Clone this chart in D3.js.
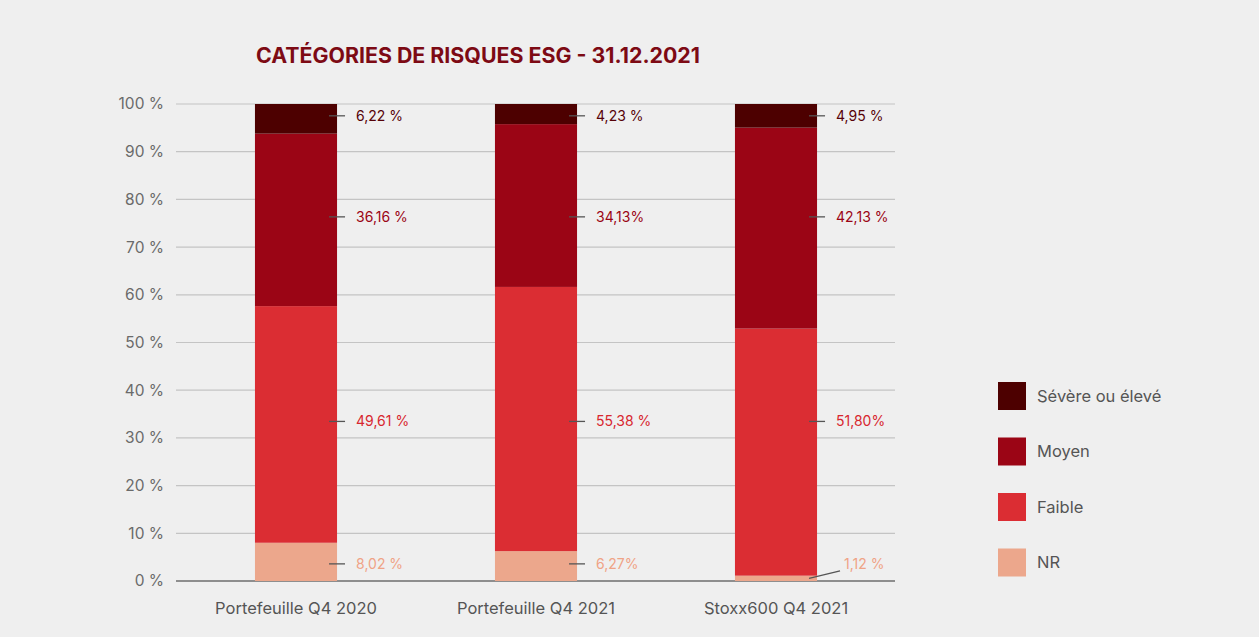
<!DOCTYPE html>
<html>
<head>
<meta charset="utf-8">
<script src="https://cdn.jsdelivr.net/npm/d3@7"></script>
<style>
  body { margin: 0; background: #efefef; }
  svg { display: block; }
  text { font-family: "Inter", "Noto Sans", sans-serif; }
</style>
</head>
<body>
<div id="canvas"></div>
<script>
// data
var categories = ["Portefeuille Q4 2020", "Portefeuille Q4 2021", "Stoxx600 Q4 2021"];
var seriesNames = ["NR", "Faible", "Moyen", "Sévère ou élevé"];
var nrValues = [8.02, 6.27, 1.12];
var faibleValues = [49.61, 55.38, 51.80];
var moyenValues = [36.16, 34.13, 42.13];
var severeValues = [6.22, 4.23, 4.95];
var nrLabels = ["8,02 %", "6,27%", "1,12 %"];
var faibleLabels = ["49,61 %", "55,38 %", "51,80%"];
var moyenLabels = ["36,16 %", "34,13%", "42,13 %"];
var severeLabels = ["6,22 %", "4,23 %", "4,95 %"];
var yTicks = [0, 10, 20, 30, 40, 50, 60, 70, 80, 90, 100];
var colors = ["#eca78c", "#db2d33", "#9b0515", "#4d0000"];
var labelColors = ["#efa386", "#d8262e", "#9b0515", "#560208"];

function init() {
    var svg = d3.select("#canvas").append("svg")
        .attr("width", 1259)
        .attr("height", 637);

    svg.append("rect")
        .attr("width", 1259)
        .attr("height", 637)
        .style("fill", "#efefef");

    // title
    svg.append("text")
        .attr("x", 256)
        .attr("y", 63)
        .attr("font-size", 21)
        .attr("font-weight", "bold")
        .attr("fill", "#7d0a14")
        .attr("textLength", 444)
        .attr("lengthAdjust", "spacingAndGlyphs")
        .text("CATÉGORIES DE RISQUES ESG - 31.12.2021");

    var x = d3.scaleBand()
        .domain(categories)
        .range([176, 896])
        .paddingInner(0.658)
        .paddingOuter(0.329);

    var y = d3.scaleLinear()
        .domain([0, 100])
        .range([581, 104]);

    // grid + y labels
    var grid = svg.append("g");
    grid.selectAll("line")
        .data(yTicks)
        .enter().append("line")
        .attr("x1", 176)
        .attr("x2", 895)
        .attr("y1", function(d) { return y(d); })
        .attr("y2", function(d) { return y(d); })
        .attr("stroke", function(d) { return d === 0 ? "#6e6e6e" : "#c4c4c4"; })
        .attr("stroke-width", function(d) { return d === 0 ? 1.5 : 1.2; });
    grid.selectAll("text")
        .data(yTicks)
        .enter().append("text")
        .attr("x", 164)
        .attr("y", function(d) { return y(d); })
        .attr("dy", "0.35em")
        .attr("text-anchor", "end")
        .attr("font-size", 15.5)
        .attr("fill", "#6a6a6a")
        .text(function(d) { return d + " %"; });

    // stacked bars
    var rows = categories.map(function(c, i) {
        return { cat: c, NR: nrValues[i], Faible: faibleValues[i], Moyen: moyenValues[i], "Sévère ou élevé": severeValues[i] };
    });
    var labels = [nrLabels, faibleLabels, moyenLabels, severeLabels];
    var stack = d3.stack().keys(seriesNames)(rows);

    var layers = svg.append("g").selectAll("g")
        .data(stack)
        .enter().append("g")
        .attr("fill", function(d, i) { return colors[i]; });

    layers.selectAll("rect")
        .data(function(d) { return d; })
        .enter().append("rect")
        .attr("x", function(d) { return x(d.data.cat); })
        .attr("width", x.bandwidth())
        .attr("y", function(d) { return y(Math.min(d[1], 100)); })
        .attr("height", function(d) { return y(d[0]) - y(Math.min(d[1], 100)); });

    // value labels, aligned on the first bar's segment centres
    var lab = svg.append("g");
    stack.forEach(function(layer, si) {
        var first = layer[0];
        var ly = y((first[0] + Math.min(first[1], 100)) / 2) + (si === 0 ? 2 : -3);
        layer.forEach(function(d, ci) {
            var right = x(d.data.cat) + x.bandwidth();
            var mid = y((d[0] + Math.min(d[1], 100)) / 2);
            var small = (y(d[0]) - y(d[1])) < 10;
            lab.append("line")
                .attr("x1", right - 8)
                .attr("y1", small ? mid : ly)
                .attr("x2", small ? right + 23 : right + 8)
                .attr("y2", small ? ly + 7 : ly)
                .attr("stroke", "#555")
                .attr("stroke-width", 1.3);
            lab.append("text")
                .attr("x", small ? right + 27 : right + 19)
                .attr("y", ly)
                .attr("dy", "0.35em")
                .attr("font-size", 14)
                .attr("fill", labelColors[si])
                .text(labels[si][ci]);
        });
    });

    // x labels
    svg.append("g").selectAll("text")
        .data(categories)
        .enter().append("text")
        .attr("x", function(d) { return x(d) + x.bandwidth() / 2; })
        .attr("y", 614)
        .attr("text-anchor", "middle")
        .attr("font-size", 16.5)
        .attr("fill", "#555")
        .text(function(d) { return d; });

    // legend (top to bottom: severe first)
    var legendOrder = seriesNames.slice().reverse();
    var legend = svg.append("g").selectAll("g")
        .data(legendOrder)
        .enter().append("g")
        .attr("transform", function(d, i) { return "translate(998," + (382 + i * 55.5) + ")"; });
    legend.append("rect")
        .attr("width", 28)
        .attr("height", 28)
        .attr("fill", function(d) { return colors[seriesNames.indexOf(d)]; });
    legend.append("text")
        .attr("x", 39)
        .attr("y", 14)
        .attr("dy", "0.35em")
        .attr("font-size", 16.5)
        .attr("fill", "#555")
        .text(function(d) { return d; });
}
window.onload = init;
</script>
</body>
</html>
